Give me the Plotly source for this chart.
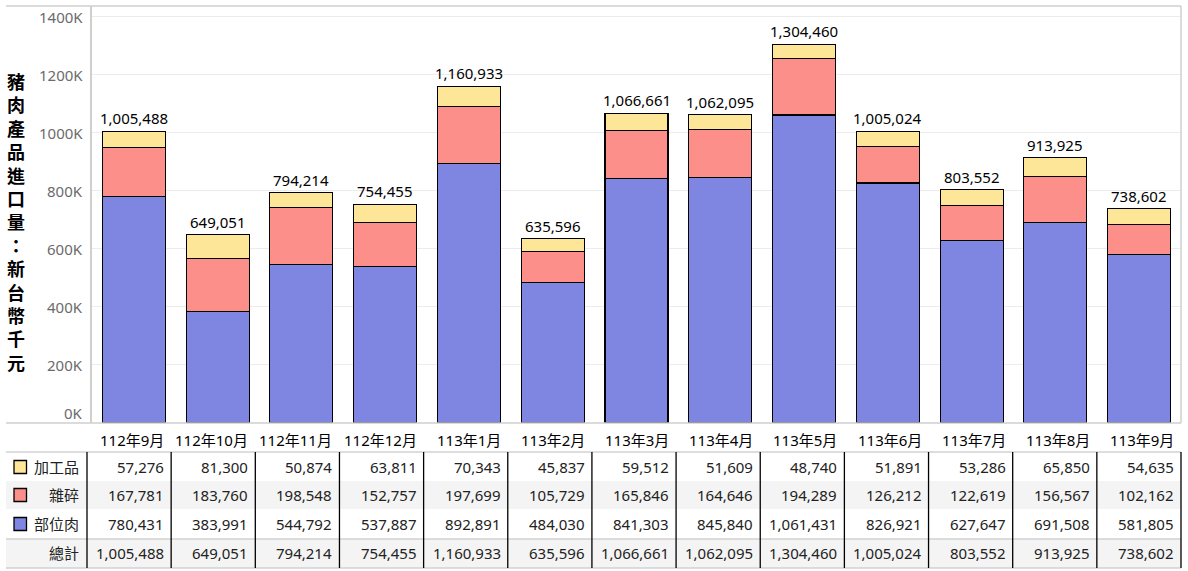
import plotly.graph_objects as go

months = ["112年9月", "112年10月", "112年11月", "112年12月", "113年1月", "113年2月",
          "113年3月", "113年4月", "113年5月", "113年6月", "113年7月", "113年8月", "113年9月"]
processed = [57276, 81300, 50874, 63811, 70343, 45837, 59512, 51609, 48740, 51891, 53286, 65850, 54635]
offal = [167781, 183760, 198548, 152757, 197699, 105729, 165846, 164646, 194289, 126212, 122619, 156567, 102162]
cuts = [780431, 383991, 544792, 537887, 892891, 484030, 841303, 845840, 1061431, 826921, 627647, 691508, 581805]
totals = [1005488, 649051, 794214, 754455, 1160933, 635596, 1066661, 1062095, 1304460, 1005024, 803552, 913925, 738602]
tick_vals = [0, 200000, 400000, 600000, 800000, 1000000, 1200000, 1400000]
tick_text = ["0K", "200K", "400K", "600K", "800K", "1000K", "1200K", "1400K"]

series = [("部位肉", cuts, "#7f86e1"), ("雜碎", offal, "#fd8f8a"), ("加工品", processed, "#fee698")]

W, H = 1188, 571
L, R, T, B = 92, 1181, 6, 423
FONT = "Noto Sans, Noto Sans CJK TC, sans-serif"


def px(p):
    return (p - L) / (R - L)


def py(p):
    return (B - p) / (B - T)


fig = go.Figure()
for name, vals, color in series:
    fig.add_trace(go.Bar(x=months, y=vals, name=name, marker=dict(color=color, line=dict(color="black", width=1.1)),
                         hoverinfo="x+y+name"))

annotations = []
# total labels above bars
for m, t in zip(months, totals):
    annotations.append(dict(x=m, y=t, xref="x", yref="y", text=f"{t:,}", showarrow=False,
                            yanchor="bottom", yshift=1, font=dict(size=15, color="black", family=FONT)))

# y-axis tick labels
for v, s in zip(tick_vals, tick_text):
    annotations.append(dict(x=px(85), y=v, xref="paper", yref="y", text=s, showarrow=False,
                            xanchor="right", yanchor="middle", yshift=10 if v == 0 else 0,
                            font=dict(size=15, color="#6b6b6b", family=FONT)))

# y-axis title (vertical stacked characters)
title = "豬肉產品進口量：新台幣千元"
annotations.append(dict(x=px(16), y=py(221.5), xref="paper", yref="paper",
                        text="<b>" + "<br>".join(title) + "</b>",
                        showarrow=False, xanchor="center", yanchor="middle",
                        font=dict(size=18, color="black", family="Noto Sans CJK TC"), ))

shapes = []
line_grey = "#cfcfcf"
# frame lines
shapes.append(dict(type="line", xref="paper", yref="paper", x0=px(6), x1=px(R), y0=py(T), y1=py(T),
                   line=dict(color=line_grey, width=1.5)))
shapes.append(dict(type="line", xref="paper", yref="paper", x0=px(6), x1=px(R), y0=py(B), y1=py(B),
                   line=dict(color=line_grey, width=1.5)))
shapes.append(dict(type="line", xref="paper", yref="paper", x0=px(R), x1=px(R), y0=py(T), y1=py(B),
                   line=dict(color=line_grey, width=1.5)))

# table
col0, colw = 87, (R - 87) / 13
header_y = 440
row_tops = [452, 481, 509, 539]
row_bot = 568
row_centers = [467, 495, 524, 553]

# shaded rows
for i in (1, 3):
    y0 = row_tops[i]
    y1 = row_tops[i + 1] if i + 1 < len(row_tops) else row_bot
    shapes.append(dict(type="rect", xref="paper", yref="paper", x0=px(6), x1=px(R), y0=py(y1), y1=py(y0),
                       fillcolor="#f4f4f4", line=dict(width=0), layer="below"))
# horizontal lines
for yy in (452, 539, 568):
    shapes.append(dict(type="line", xref="paper", yref="paper", x0=px(6), x1=px(R), y0=py(yy), y1=py(yy),
                       line=dict(color="#d2d2d2", width=1.5)))
# vertical separators
for i in range(14):
    xx = col0 + colw * i
    shapes.append(dict(type="line", xref="paper", yref="paper", x0=px(xx), x1=px(xx), y0=py(452), y1=py(568),
                       line=dict(color="black", width=1.3)))

rows = [("加工品", processed, "#fee698"), ("雜碎", offal, "#fd8f8a"), ("部位肉", cuts, "#7f86e1"), ("總計", totals, None)]

for i, m in enumerate(months):
    annotations.append(dict(x=px(col0 + colw * (i + 1) - 5), y=py(header_y), xref="paper", yref="paper", text=m,
                            showarrow=False, xanchor="right", yanchor="middle",
                            font=dict(size=15, color="black", family=FONT)))

for r, (label, vals, color) in enumerate(rows):
    cy = row_centers[r]
    annotations.append(dict(x=px(81), y=py(cy), xref="paper", yref="paper", text=label, showarrow=False,
                            xanchor="right", yanchor="middle", font=dict(size=15, color="#222222", family=FONT)))
    if color:
        shapes.append(dict(type="rect", xref="paper", yref="paper", x0=px(14), x1=px(26.5), y0=py(cy + 6.5),
                           y1=py(cy - 6.5), fillcolor=color, line=dict(color="black", width=1.3)))
    for i, v in enumerate(vals):
        annotations.append(dict(x=px(col0 + colw * (i + 1) - 5), y=py(cy), xref="paper", yref="paper",
                                text=f"{v:,}", showarrow=False, xanchor="right", yanchor="middle",
                                font=dict(size=15, color="#222222", family=FONT)))

fig.update_layout(
    width=W, height=H,
    margin=dict(l=L, r=W - R, t=T, b=H - B, pad=0),
    barmode="stack", bargap=0.248,
    showlegend=False,
    paper_bgcolor="white", plot_bgcolor="white",
    font=dict(family=FONT),
    xaxis=dict(showticklabels=False, showgrid=False, zeroline=False, showline=False, ticks=""),
    yaxis=dict(range=[0, 1437000], tickvals=tick_vals, showticklabels=False, showgrid=True,
               gridcolor="#ececec", gridwidth=1, zeroline=False, showline=True, linecolor=line_grey,
               linewidth=1.5, ticks=""),
    annotations=annotations,
    shapes=shapes,
)

fig.write_html("out.html")
